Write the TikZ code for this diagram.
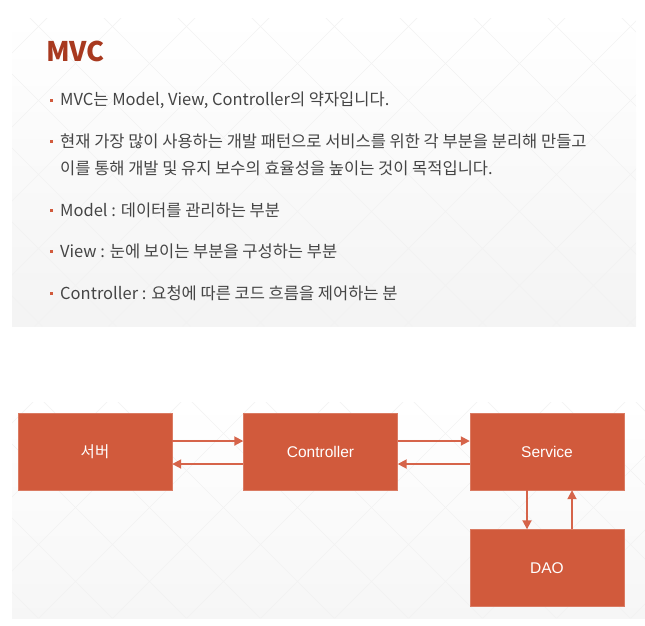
\documentclass[tikz,border=0pt]{standalone}
\usepackage{fontspec}
\setmainfont{Noto Sans CJK KR}
\newfontfamily\boxfont{Liberation Sans}
\newfontfamily\krfont{Noto Sans CJK KR}
\usetikzlibrary{arrows.meta}
\definecolor{brick}{HTML}{D15A3C}
\definecolor{brickline}{HTML}{D6644A}
\definecolor{titlered}{HTML}{A8391F}
\definecolor{bodytext}{HTML}{454545}
\tikzset{
  box/.style={draw=brick!80!white, fill=brick, minimum width=154pt, minimum height=77pt, inner sep=0pt, text=white, font=\boxfont\fontsize{15.5}{18}\selectfont},
  link/.style={draw=brickline, line width=1.8pt, -{Triangle[length=9pt,width=9pt]}},
  item/.style={anchor=west, text=bodytext, inner sep=0pt, font=\fontsize{16.5}{26.5}\selectfont, align=left},
  dot/.style={fill=brick, minimum size=3pt, inner sep=0pt}
}
\begin{document}
\begin{tikzpicture}[x=1pt, y=-1pt]
\path[use as bounding box] (0,0) rectangle (645,625);

\shade[top color=white, bottom color=gray!9] (12,18) rectangle (636,326);
\shade[top color=white, bottom color=gray!7] (12,402) rectangle (645,618);
\begin{scope}
\clip (12,18) rectangle (636,326) (12,402) rectangle (645,618);
\foreach \k in {-10,...,10} {
  \draw[gray!10, line width=0.5pt] (\k*74+12,0) -- ++(625,625);
  \draw[gray!10, line width=0.5pt] (\k*74+12+645,0) -- ++(-625,625);
}
\end{scope}

\node[anchor=west, inner sep=0pt, text=titlered, font=\bfseries\fontsize{27}{30}\selectfont] (title) at (46,51) {MVC};

\node[dot] (b1) at (51,100) {};
\node[dot] (b2) at (51,141) {};
\node[dot] (b3) at (51,210) {};
\node[dot] (b4) at (51,251) {};
\node[dot] (b5) at (51,293) {};
\node[item] (t1) at (60,100) {MVC는 Model, View, Controller의 약자입니다.};
\node[item, anchor=north west] (t2) at (60,134) {현재 가장 많이 사용하는 개발 패턴으로 서비스를 위한 각 부분을 분리해 만들고\\이를 통해 개발 및 유지 보수의 효율성을 높이는 것이 목적입니다.};
\node[item] (t3) at (60,210) {Model : 데이터를 관리하는 부분};
\node[item] (t4) at (60,251) {View : 눈에 보이는 부분을 구성하는 부분};
\node[item] (t5) at (60,293) {Controller : 요청에 따른 코드 흐름을 제어하는 분};

\node[box] (server) at (95,451.5) {\krfont 서버};
\node[box] (ctrl) at (320.5,451.5) {Controller};
\node[box] (svc) at (547,451.5) {Service};
\node[box] (dao) at (547,568) {DAO};

\path[link] ([yshift=10.5pt]server.east) -- ([yshift=10.5pt]ctrl.west);
\path[link] ([yshift=-12.5pt]ctrl.west) -- ([yshift=-12.5pt]server.east);
\path[link] ([yshift=10.5pt]ctrl.east) -- ([yshift=10.5pt]svc.west);
\path[link] ([yshift=-12.5pt]svc.west) -- ([yshift=-12.5pt]ctrl.east);
\path[link] ([xshift=-20pt]svc.south) -- ([xshift=-20pt]dao.north);
\path[link] ([xshift=25pt]dao.north) -- ([xshift=25pt]svc.south);
\end{tikzpicture}
\end{document}
